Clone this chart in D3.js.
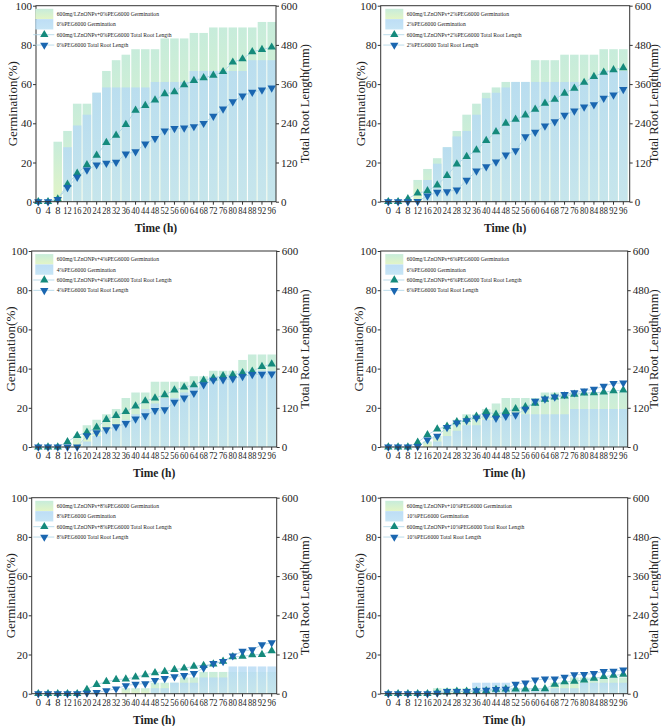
<!DOCTYPE html>
<html>
<head>
<meta charset="utf-8">
<script src="https://cdn.jsdelivr.net/npm/d3@7"></script>
<style>
  body { margin: 0; background: #fff; }
  svg { display: block; }
  text { font-family: "Liberation Serif", "Times New Roman", serif; fill: #222; }
</style>
</head>
<body>
<div id="chart"></div>
<script>
// time points (h)
const times = [0, 4, 8, 12, 16, 20, 24, 28, 32, 36, 40, 44, 48, 52, 56, 60, 64, 68, 72, 76, 80, 84, 88, 92, 96];
const germTicks = [0, 20, 40, 60, 80, 100];
const rootTicks = [0, 120, 240, 360, 480, 600];

// 0% PEG6000
const germZn0 = [0, 0, 30.6, 36.1, 50, 50, 55.6, 66.7, 72.2, 75, 77.8, 77.8, 77.8, 83.3, 83.3, 83.3, 86.1, 86.1, 88.9, 88.9, 88.9, 88.9, 88.9, 91.7, 91.7];
const germPeg0 = [0, 0, 0, 27.8, 38.9, 44.4, 55.6, 58.3, 58.3, 58.3, 58.3, 58.3, 61.1, 61.1, 61.1, 61.1, 66.7, 66.7, 66.7, 66.7, 66.7, 66.7, 72.2, 72.2, 72.2];
const rootZn0 = [0, 0, 8, 53, 87, 113, 142, 181, 203, 236, 280, 294, 311, 330, 336, 358, 371, 379, 387, 398, 427, 437, 459, 466, 473];
const rootPeg0 = [0, 0, 7, 44, 75, 97, 113, 118, 121, 146, 153, 177, 194, 217, 224, 226, 230, 240, 262, 284, 306, 324, 335, 342, 348];

// 2% PEG6000
const germZn2 = [0, 0, 0, 11.1, 16.7, 22.2, 27.8, 36.1, 44.4, 50, 55.6, 58.3, 61.1, 61.1, 61.1, 72.2, 72.2, 72.2, 75, 75, 75, 75, 77.8, 77.8, 77.8];
const germPeg2 = [0, 0, 0, 0, 11.1, 19.4, 27.8, 33.3, 36.1, 44.4, 52.8, 55.6, 58.3, 61.1, 61.1, 61.1, 61.1, 61.1, 61.1, 61.1, 61.1, 63.9, 66.7, 66.7, 66.7];
const rootZn2 = [0, 0, 9, 26, 33, 51, 80, 115, 138, 158, 187, 214, 240, 252, 265, 283, 301, 313, 332, 347, 365, 383, 396, 404, 410];
const rootPeg2 = [0, 0, 0, 1, 18, 29, 31, 36, 66, 94, 107, 122, 143, 156, 199, 213, 232, 245, 265, 278, 290, 297, 317, 327, 344];

// 4% PEG6000
const germZn4 = [0, 0, 0, 0, 5.6, 11.1, 13.9, 16.7, 19.4, 25, 27.8, 27.8, 33.3, 33.3, 33.3, 33.3, 36.1, 36.1, 38.9, 38.9, 38.9, 44.4, 47.2, 47.2, 47.2];
const germPeg4 = [0, 0, 0, 0, 0, 2.8, 5.6, 8.3, 11.1, 13.9, 16.7, 19.4, 22.2, 25, 25, 27.8, 30.6, 33.3, 36.1, 36.1, 36.1, 38.9, 38.9, 38.9, 38.9];
const rootZn4 = [0, 0, 0, 16, 35, 45, 60, 84, 96, 108, 125, 141, 150, 160, 174, 183, 190, 204, 211, 218, 221, 227, 232, 246, 254];
const rootPeg4 = [0, 0, 0, 0, 0, 35, 44, 53, 62, 72, 86, 96, 112, 114, 137, 150, 165, 191, 205, 206, 209, 216, 222, 223, 224];

// 6% PEG6000
const germZn6 = [0, 0, 0, 0, 2.8, 5.6, 11.1, 13.9, 16.7, 16.7, 19.4, 22.2, 25, 25, 25, 25, 27.8, 27.8, 27.8, 27.8, 27.8, 27.8, 27.8, 27.8, 27.8];
const germPeg6 = [0, 0, 0, 0, 0, 2.8, 5.6, 8.3, 11.1, 11.1, 13.9, 13.9, 16.7, 16.7, 16.7, 16.7, 16.7, 16.7, 16.7, 19.4, 19.4, 19.4, 19.4, 19.4, 19.4];
const rootZn6 = [0, 0, 0, 14, 37, 55, 63, 77, 85, 94, 108, 100, 108, 117, 123, 134, 146, 153, 156, 161, 165, 166, 168, 172, 174];
const rootPeg6 = [0, 0, 0, 2, 22, 33, 60, 74, 81, 89, 94, 88, 94, 98, 116, 140, 147, 153, 161, 166, 172, 177, 186, 195, 196];

// 8% PEG6000
const germZn8 = [0, 0, 0, 0, 0, 0, 0, 0, 0, 2.8, 2.8, 2.8, 5.6, 5.6, 5.6, 8.3, 8.3, 11.1, 11.1, 11.1, 11.1, 11.1, 11.1, 11.1, 11.1];
const germPeg8 = [0, 0, 0, 0, 0, 0, 0, 0, 0, 0, 0, 0, 2.8, 2.8, 5.6, 5.6, 5.6, 8.3, 8.3, 8.3, 13.9, 13.9, 13.9, 13.9, 13.9];
const rootZn8 = [0, 0, 0, 0, 0, 13, 28, 37, 43, 45, 51, 58, 64, 68, 74, 78, 84, 86, 91, 99, 113, 114, 119, 120, 131];
const rootPeg8 = [0, 0, 0, 0, 0, 2, 4, 9, 15, 25, 29, 31, 41, 47, 52, 56, 62, 79, 93, 99, 116, 130, 135, 150, 156];

// 10% PEG6000
const germZn10 = [0, 0, 0, 0, 0, 2.8, 2.8, 2.8, 2.8, 2.8, 2.8, 2.8, 2.8, 2.8, 2.8, 2.8, 2.8, 5.6, 5.6, 8.3, 8.3, 8.3, 8.3, 8.3, 8.3];
const germPeg10 = [0, 0, 0, 0, 0, 0, 0, 0, 0, 5.6, 5.6, 5.6, 5.6, 2.8, 2.8, 2.8, 2.8, 2.8, 2.8, 2.8, 5.6, 5.6, 5.6, 5.6, 5.6];
const rootZn10 = [0, 0, 0, 0, 0, 4, 5, 7, 7, 8, 9, 13, 14, 14, 14, 16, 15, 29, 36, 38, 42, 47, 52, 56, 59];
const rootPeg10 = [0, 0, 0, 0, 0, 2, 7, 7, 7, 9, 11, 13, 14, 29, 33, 42, 45, 45, 51, 58, 59, 62, 68, 69, 73];

const W = 661, H = 726;
const svg = d3.select("#chart").append("svg").attr("width", W).attr("height", H);

// bar gradients
const defs = svg.append("defs");
const gZn = defs.append("linearGradient").attr("id", "gradZn").attr("x1", 0).attr("y1", 0).attr("x2", 0).attr("y2", 1);
gZn.append("stop").attr("offset", "0%").attr("stop-color", "#c7ecdb");
gZn.append("stop").attr("offset", "100%").attr("stop-color", "#e3f5c6");
const gPeg = defs.append("linearGradient").attr("id", "gradPeg").attr("x1", 0).attr("y1", 0).attr("x2", 0).attr("y2", 1);
gPeg.append("stop").attr("offset", "0%").attr("stop-color", "#b6daf4");
gPeg.append("stop").attr("offset", "100%").attr("stop-color", "#c0e2f4");

const upColor = "#158a7c";
const downColor = "#1a66b0";
const lineColor = "#a9d3e6";

// panel layout (pixel boxes)
const panels = [
  { peg: "0%",  gz: germZn0,  gp: germPeg0,  rz: rootZn0,  rp: rootPeg0,  left: 36,    right: 276,   c0: 38.3,  c1: 271.7, top: 5.7,   bottom: 201.7, yl: 12,  yr: 305 },
  { peg: "2%",  gz: germZn2,  gp: germPeg2,  rz: rootZn2,  rp: rootPeg2,  left: 380.7, right: 629.7, c0: 388.3, c1: 623.3, top: 5.7,   bottom: 201.7, yl: 360, yr: 654 },
  { peg: "4%",  gz: germZn4,  gp: germPeg4,  rz: rootZn4,  rp: rootPeg4,  left: 31.7,  right: 276.7, c0: 38.3,  c1: 271.7, top: 251,   bottom: 447,   yl: 10,  yr: 305 },
  { peg: "6%",  gz: germZn6,  gp: germPeg6,  rz: rootZn6,  rp: rootPeg6,  left: 380.7, right: 627.7, c0: 388.3, c1: 623.3, top: 251,   bottom: 447,   yl: 358, yr: 654 },
  { peg: "8%",  gz: germZn8,  gp: germPeg8,  rz: rootZn8,  rp: rootPeg8,  left: 31.7,  right: 276.7, c0: 38.3,  c1: 271.7, top: 497.7, bottom: 693.7, yl: 10,  yr: 305 },
  { peg: "10%", gz: germZn10, gp: germPeg10, rz: rootZn10, rp: rootPeg10, left: 380.7, right: 627.7, c0: 388.3, c1: 623.3, top: 497.7, bottom: 693.7, yl: 359, yr: 654 }
];

function drawPanel(p) {
  const g = svg.append("g");
  const step = (p.c1 - p.c0) / (times.length - 1);

  const x = d3.scaleBand()
    .domain(times)
    .range([p.c0 - step / 2, p.c1 + step / 2])
    .paddingInner(0.12)
    .paddingOuter(0.06);
  const cx = t => x(t) + x.bandwidth() / 2;

  const yL = d3.scaleLinear().domain([0, 100]).range([p.bottom, p.top]);
  const yR = d3.scaleLinear().domain([0, 600]).range([p.bottom, p.top]);

  // germination bars
  g.selectAll(".barZn")
    .data(times.map((t, i) => ({ t: t, v: p.gz[i] })))
    .enter().append("rect")
    .attr("x", d => x(d.t))
    .attr("width", x.bandwidth())
    .attr("y", d => yL(d.v))
    .attr("height", d => yL(0) - yL(d.v))
    .attr("fill", "url(#gradZn)");

  g.selectAll(".barPeg")
    .data(times.map((t, i) => ({ t: t, v: p.gp[i] })))
    .enter().append("rect")
    .attr("x", d => x(d.t))
    .attr("width", x.bandwidth())
    .attr("y", d => yL(d.v))
    .attr("height", d => yL(0) - yL(d.v))
    .attr("fill", "url(#gradPeg)")
    .attr("opacity", 0.82);

  // root length lines + markers
  const line = d3.line().x(d => cx(d.t)).y(d => yR(d.v));
  const zn = times.map((t, i) => ({ t: t, v: p.rz[i] }));
  const pg = times.map((t, i) => ({ t: t, v: p.rp[i] }));

  [zn, pg].forEach(s => {
    g.append("path").datum(s)
      .attr("d", line)
      .attr("fill", "none")
      .attr("stroke", lineColor)
      .attr("stroke-width", 0.8);
  });

  const tri = d3.symbol(d3.symbolTriangle, 30);
  g.selectAll(".up").data(zn).enter().append("path")
    .attr("d", tri)
    .attr("transform", d => "translate(" + cx(d.t) + "," + yR(d.v) + ")")
    .attr("fill", upColor);
  g.selectAll(".down").data(pg).enter().append("path")
    .attr("d", tri)
    .attr("transform", d => "translate(" + cx(d.t) + "," + yR(d.v) + ") rotate(180)")
    .attr("fill", downColor);

  // axes
  const axL = g.append("g")
    .attr("transform", "translate(" + p.left + ",0)")
    .call(d3.axisLeft(yL).tickValues(germTicks).tickSize(3).tickSizeOuter(0));
  const axR = g.append("g")
    .attr("transform", "translate(" + p.right + ",0)")
    .call(d3.axisRight(yR).tickValues(rootTicks).tickSize(3).tickSizeOuter(0));
  const axB = g.append("g")
    .attr("transform", "translate(0," + p.bottom + ")")
    .call(d3.axisBottom(x).tickSize(3).tickSizeOuter(0));

  [axL, axR, axB].forEach(a => {
    a.select(".domain").remove();
    a.selectAll("line").attr("stroke", "#333");
    a.selectAll("text").style("font-family", "Liberation Serif, serif").attr("fill", "#222");
  });
  axL.selectAll("text").style("font-size", "11px").attr("x", -4);
  axR.selectAll("text").style("font-size", "11px").attr("x", 5);
  axB.selectAll("text")
    .style("font-size", "10.5px")
    .attr("y", 5)
    .attr("textLength", d => d >= 10 ? 8.4 : null)
    .attr("lengthAdjust", "spacingAndGlyphs");

  // frame
  g.append("rect")
    .attr("x", p.left).attr("y", p.top)
    .attr("width", p.right - p.left).attr("height", p.bottom - p.top)
    .attr("fill", "none").attr("stroke", "#333").attr("stroke-width", 1);

  // axis titles
  const midY = (p.top + p.bottom) / 2;
  g.append("text")
    .attr("transform", "translate(" + p.yl + "," + midY + ") rotate(-90)")
    .attr("text-anchor", "middle").attr("dy", "0.35em")
    .style("font-size", "13px")
    .text("Germination(%)");
  g.append("text")
    .attr("transform", "translate(" + p.yr + "," + midY + ") rotate(-90)")
    .attr("text-anchor", "middle").attr("dy", "0.35em")
    .style("font-size", "12.5px")
    .text("Total Root Length(mm)");
  g.append("text")
    .attr("x", (p.left + p.right) / 2).attr("y", p.bottom + 30)
    .attr("text-anchor", "middle")
    .style("font-size", "11.5px").style("font-weight", "bold")
    .text("Time (h)");

  // legend
  const lx = p.c0 - 3;
  const lg = g.append("g");
  const items = [
    { kind: "bar", fill: "url(#gradZn)", op: 1, label: "600mg/LZnONPs+" + p.peg + "PEG6000  Germination" },
    { kind: "bar", fill: "url(#gradPeg)", op: 0.9, label: p.peg + "PEG6000  Germination" },
    { kind: "up", label: "600mg/LZnONPs+" + p.peg + "PEG6000  Total Root Length" },
    { kind: "down", label: p.peg + "PEG6000  Total Root Length" }
  ];
  items.forEach((it, i) => {
    const yy = p.top + 8.3 + i * 10.35;
    if (it.kind === "bar") {
      lg.append("rect")
        .attr("x", lx).attr("y", yy - 5.2)
        .attr("width", 18).attr("height", 10.3)
        .attr("fill", it.fill).attr("opacity", it.op);
    } else {
      lg.append("line")
        .attr("x1", lx - 2).attr("x2", lx + 19)
        .attr("y1", yy).attr("y2", yy)
        .attr("stroke", lineColor).attr("stroke-width", 0.8);
      lg.append("path")
        .attr("d", tri)
        .attr("transform", "translate(" + (lx + 9) + "," + yy + ")" + (it.kind === "down" ? " rotate(180)" : ""))
        .attr("fill", it.kind === "up" ? upColor : downColor);
    }
    lg.append("text")
      .attr("x", lx + 21.5).attr("y", yy).attr("dy", "0.35em")
      .style("font-size", "5.6px").attr("fill", "#333")
      .text(it.label);
  });
}

panels.forEach(drawPanel);
</script>
</body>
</html>
